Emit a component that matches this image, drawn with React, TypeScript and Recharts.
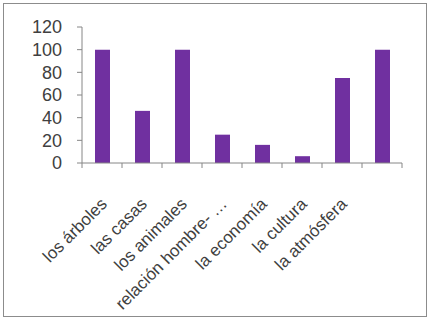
import { BarChart, Bar, XAxis, YAxis } from "recharts"

const categories = [
  "los árboles",
  "las casas",
  "los animales",
  "relación hombre- …",
  "la economía",
  "la cultura",
  "la atmósfera",
  "",
]
const values = [100, 46, 100, 25, 16, 6, 75, 100]
const yTicks = [0, 20, 40, 60, 80, 100, 120]

const data = categories.map((name, i) => ({ name, value: values[i] }))

const AXIS = "#868686"
const TEXT = "#404040"
const FONT = "'Liberation Sans', Arial, sans-serif"

function CategoryTick(props: any) {
  const { x, y, payload, index, visibleTicksCount } = props
  const half = payload?.offset ?? 20
  const last = index === (visibleTicksCount ?? categories.length) - 1
  return (
    <g>
      <line x1={x - half} x2={x - half} y1={y - 8} y2={y - 3} stroke={AXIS} />
      {last && <line x1={x + half} x2={x + half} y1={y - 8} y2={y - 3} stroke={AXIS} />}
      <text
        textAnchor="end"
        transform={`translate(${x + 6}, ${y + 34}) rotate(-45)`}
        fill={TEXT}
        fontSize={17}
        fontFamily={FONT}
      >
        {payload.value}
      </text>
    </g>
  )
}

export default function App() {
  return (
    <div style={{ position: "absolute", left: 0, top: 0, width: 432, height: 323, background: "#fff" }}>
      <div
        style={{
          position: "absolute",
          left: 3,
          top: 3,
          width: 422,
          height: 312,
          border: "1px solid #8c8c8c",
        }}
      />
      <BarChart
        width={432}
        height={323}
        data={data}
        margin={{ top: 27, right: 30, left: 22, bottom: 60 }}
        style={{ position: "absolute", left: 0, top: 0 }}
      >
        <XAxis
          dataKey="name"
          interval={0}
          height={100}
          stroke={AXIS}
          tickLine={false}
          tick={<CategoryTick />}
        />
        <YAxis
          domain={[0, 120]}
          ticks={yTicks}
          interval={0}
          width={60}
          stroke={AXIS}
          tickSize={5}
          tickMargin={15}
          tick={{ fill: TEXT, fontSize: 18, fontFamily: FONT }}
        />
        <Bar dataKey="value" fill="#7030A0" barSize={15} isAnimationActive={false} />
      </BarChart>
    </div>
  )
}
